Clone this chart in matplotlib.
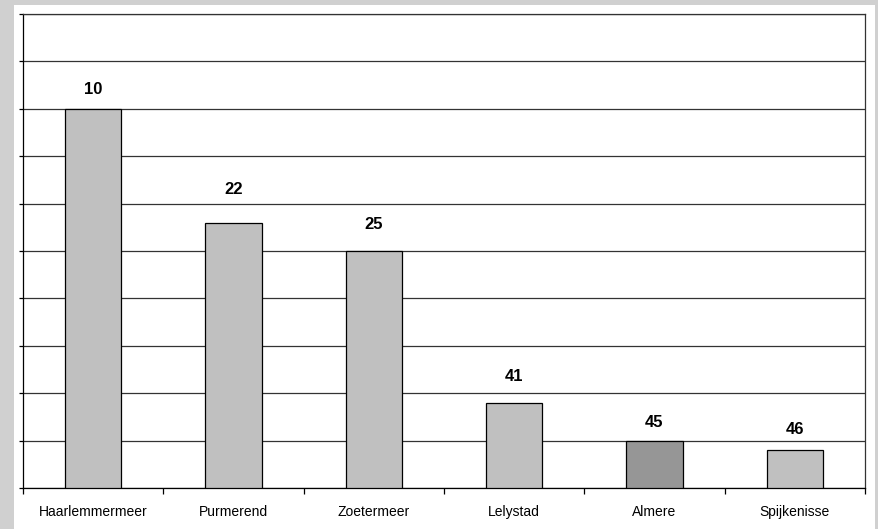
import matplotlib
matplotlib.use("Agg")
import matplotlib.pyplot as plt
from matplotlib.patches import Rectangle
import numpy as np

plt.rcParams['font.family'] = ['Liberation Sans', 'DejaVu Sans']

# Gemeenten en waarden
cities = ["Haarlemmermeer", "Purmerend", "Zoetermeer", "Lelystad", "Almere", "Spijkenisse"]
values = [8.0, 5.6, 5.0, 1.8, 1.0, 0.8]
rank_labels = ["10", "22", "25", "41", "45", "46"]
highlight = "Almere"

W, H = 879, 529
fig = plt.figure(figsize=(W / 100, H / 100), dpi=100)
fig.patch.set_facecolor("#d0d0d0")

# white chart area inside the grey frame
fig.add_artist(Rectangle((14 / W, 0), (875 - 14) / W, (529 - 5) / H,
                         transform=fig.transFigure, facecolor="white",
                         edgecolor="none", zorder=0))

ax = fig.add_axes([23 / W, (H - 488) / H, (865 - 23) / W, (488 - 14) / H])
ax.set_facecolor("white")

x = np.arange(len(cities))
colors = ["#969696" if c == highlight else "#c0c0c0" for c in cities]
bars = ax.bar(x, values, width=0.4, color=colors, edgecolor="black",
              linewidth=0.9, zorder=3)

ax.set_xlim(-0.5, len(cities) - 0.5)
ax.set_ylim(0, 10)
ax.set_yticks(np.arange(0, 11, 1))
ax.set_yticklabels([])
ax.yaxis.grid(True, color="#333333", linewidth=0.9, zorder=1)
ax.tick_params(axis="y", direction="out", length=3, width=0.9, color="black")

ax.set_xticks(x)
ax.set_xticklabels(cities, fontsize=10)
ax.set_xticks(np.arange(-0.5, len(cities), 1), minor=True)
ax.tick_params(axis="x", which="major", length=0, pad=12)
ax.tick_params(axis="x", which="minor", direction="out", length=4, width=0.9, color="black")

for side in ["left", "bottom"]:
    ax.spines[side].set_color("black")
    ax.spines[side].set_linewidth(0.9)
for side in ["top", "right"]:
    ax.spines[side].set_color("#333333")
    ax.spines[side].set_linewidth(0.9)

# rank labels above the bars
label_gap = [12, 26, 19, 19, 11, 13]
for b, lab, g in zip(bars, rank_labels, label_gap):
    ax.annotate(lab, (b.get_x() + b.get_width() / 2, b.get_height()),
                xytext=(0, g * 0.72), textcoords="offset points",
                ha="center", va="bottom", fontsize=12, fontweight="bold")

fig.savefig("out.png", dpi=100, facecolor=fig.get_facecolor())
